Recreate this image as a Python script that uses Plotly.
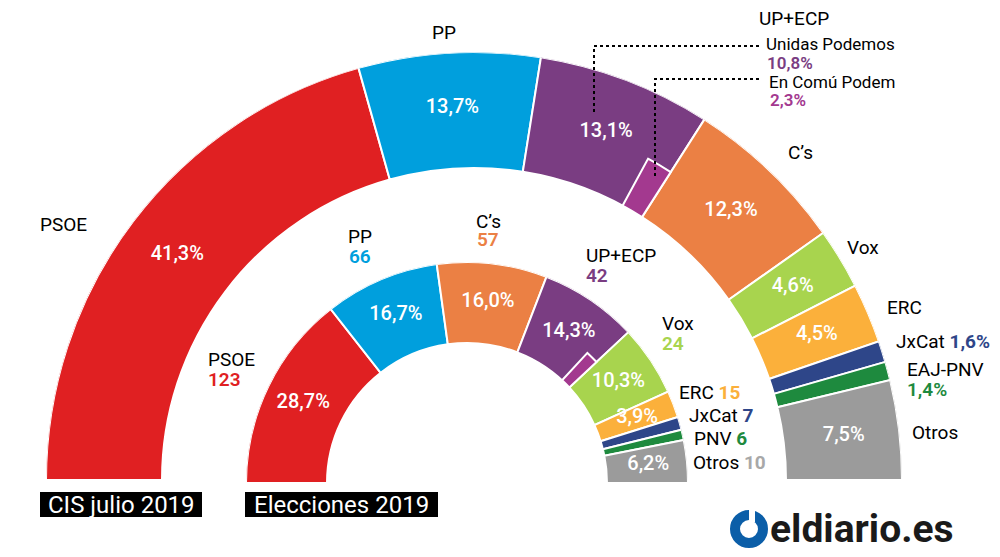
import plotly.graph_objects as go

# Encuesta CIS julio 2019 (anillo exterior) y elecciones abril 2019 (anillo interior)
cis_parties = ["PSOE", "PP", "UP+ECP", "C’s", "Vox", "ERC", "JxCat", "EAJ-PNV", "Otros"]
cis_pct = [41.3, 13.7, 13.1, 12.3, 4.6, 4.5, 1.6, 1.4, 7.5]
cis_up = 10.8
cis_ecp = 2.3

elec_parties = ["PSOE", "PP", "C’s", "UP+ECP", "Vox", "ERC", "JxCat", "PNV", "Otros"]
elec_pct = [28.7, 16.7, 16.0, 14.3, 10.3, 3.9, 1.9, 1.5, 6.2]
elec_seats = [123, 66, 57, 42, 24, 15, 7, 6, 10]
elec_ecp = 2.3

colors = {
    "PSOE": "#E02022", "PP": "#009FDD", "UP+ECP": "#7A3D82", "C’s": "#EB8044",
    "Vox": "#A8D44E", "ERC": "#FBB03B", "JxCat": "#2E4689", "EAJ-PNV": "#1E8A3E",
    "PNV": "#1E8A3E", "Otros": "#9B9B9B",
}
ECP_COLOR = "#A3398F"
OTROS_TXT = "#A8A8A8"

# the page body keeps its 8px margin, so the figure is drawn 8px in and 8px smaller
OFF = 8
W, H = 1000 - OFF, 557 - OFF


def px(x):
    return (x - OFF) / W


def py(y):
    return 1 - (y - OFF) / H


def wedges(pct):
    total = sum(pct)
    widths = [p / total * 180 for p in pct]
    mids, start = [], 0
    for w in widths:
        mids.append(start + w / 2)
        start += w
    return widths, mids, total


def pct_txt(v):
    return f"{v:.1f}%".replace(".", ",")


fig = go.Figure()


def add_ring(parties, pct, base, length, ecp, subplot):
    widths, mids, total = wedges(pct)
    fig.add_trace(go.Barpolar(
        theta=mids, width=widths, r=[length] * len(pct), base=[base] * len(pct),
        marker=dict(color=[colors[p] for p in parties], line=dict(color="white", width=2)),
        hoverinfo="skip", showlegend=False, subplot=subplot,
    ))
    # En Comú Podem, dentro de UP+ECP (al final del sector)
    i = parties.index("UP+ECP")
    end = mids[i] + widths[i] / 2
    ew = ecp / total * 180
    fig.add_trace(go.Barpolar(
        theta=[end - ew / 2], width=[ew], r=[length * 0.46], base=[base],
        marker=dict(color=ECP_COLOR, line=dict(color="white", width=2)),
        hoverinfo="skip", showlegend=False, subplot=subplot,
    ))
    shown = [k for k, p in enumerate(parties) if p not in ("JxCat", "EAJ-PNV", "PNV")]
    fig.add_trace(go.Scatterpolar(
        theta=[mids[k] for k in shown], r=[base + length * 0.52] * len(shown),
        mode="text", text=[pct_txt(pct[k]) for k in shown],
        textfont=dict(family="Roboto", size=20, color="white", weight=500),
        hoverinfo="skip", showlegend=False, subplot=subplot,
    ))


def polar_layout(cx, cy, r):
    return dict(
        domain=dict(x=[px(cx - r), px(cx + r)], y=[py(cy), py(cy - r)]),
        sector=[0, 180],
        bgcolor="rgba(0,0,0,0)",
        radialaxis=dict(range=[0, r], visible=False),
        angularaxis=dict(direction="clockwise", rotation=180, visible=False,
                         showgrid=False, showline=False),
    )


# outer ring: centre (474, 480), radius 428 px; inner ring: centre (467, 483), radius 221 px
add_ring(cis_parties, cis_pct, 312, 116, cis_ecp, "polar")
add_ring(elec_parties, elec_pct, 140, 81, elec_ecp, "polar2")

fig.update_layout(
    width=W, height=H,
    margin=dict(l=0, r=0, t=0, b=0),
    paper_bgcolor="white",
    polar=polar_layout(474, 480, 428),
    polar2=polar_layout(467, 483, 221),
)

# etiquetas: (x, y, texto, color, negrita, anclaje, tamano)
labels = [
    (63, 224, "PSOE", "black", False, "center", 19),
    (444, 33, "PP", "black", False, "center", 19),
    (794, 19, "UP+ECP", "black", False, "center", 19),
    (765, 44, "Unidas Podemos", "black", False, "left", 17),
    (766, 63, pct_txt(cis_up), colors["UP+ECP"], True, "left", 17),
    (768, 82, "En Comú Podem", "black", False, "left", 17),
    (769, 100, pct_txt(cis_ecp), ECP_COLOR, True, "left", 17),
    (800, 152, "C’s", "black", False, "center", 19),
    (863, 247, "Vox", "black", False, "center", 19),
    (904, 307, "ERC", "black", False, "center", 19),
    (895, 341, "JxCat <span style='color:%s'><b>%s</b></span>" % (colors["JxCat"], pct_txt(cis_pct[6])),
     "black", False, "left", 19),
    (906, 369, "EAJ-PNV", "black", False, "left", 19),
    (906, 389, pct_txt(cis_pct[7]), colors["EAJ-PNV"], True, "left", 19),
    (935, 432, "Otros", "black", False, "center", 19),
    # elecciones
    (207, 359, "PSOE", "black", False, "left", 19),
    (207, 379, str(elec_seats[0]), colors["PSOE"], True, "left", 19),
    (360, 237, "PP", "black", False, "center", 19),
    (360, 256, str(elec_seats[1]), colors["PP"], True, "center", 19),
    (488, 221, "C’s", "black", False, "center", 19),
    (488, 240, str(elec_seats[2]), colors["C’s"], True, "center", 19),
    (585, 255, "UP+ECP", "black", False, "left", 19),
    (585, 275, str(elec_seats[3]), colors["UP+ECP"], True, "left", 19),
    (661, 323, "Vox", "black", False, "left", 19),
    (661, 343, str(elec_seats[4]), colors["Vox"], True, "left", 19),
]
seat_rows = [(678, 392, 5, "ERC"), (688, 415, 6, "JxCat"), (693, 438, 7, "PNV"), (692, 462, 8, "Otros")]
for x, y, k, name in seat_rows:
    c = OTROS_TXT if name == "Otros" else colors[elec_parties[k]]
    labels.append((x, y, "%s <span style='color:%s'><b>%d</b></span>" % (name, c, elec_seats[k]),
                   "black", False, "left", 19))

for x, y, text, color, bold, anchor, size in labels:
    fig.add_annotation(
        x=px(x), y=py(y), xref="paper", yref="paper", text=text, showarrow=False,
        xanchor=anchor, yanchor="middle", borderpad=0,
        font=dict(family="Roboto", size=size, color=color, weight=600 if bold else 400),
    )

# lineas guia punteadas
for x0, y0, y1 in [(594, 112, 46), (655, 176, 79)]:
    fig.add_shape(type="path", xref="paper", yref="paper",
                  path=f"M{px(x0)},{py(y0)} L{px(x0)},{py(y1)} L{px(762)},{py(y1)}",
                  line=dict(color="black", width=2, dash="dot"))

# cajas de titulo
for x0, x1, text in [(40, 202, "CIS julio 2019"), (245, 438, "Elecciones 2019")]:
    fig.add_shape(type="rect", xref="paper", yref="paper", x0=px(x0), x1=px(x1),
                  y0=py(517), y1=py(492), fillcolor="black", line=dict(width=0), layer="below")
    fig.add_annotation(x=px((x0 + x1) / 2), y=py(505), xref="paper", yref="paper", text=text,
                       showarrow=False, xanchor="center", yanchor="middle", borderpad=0,
                       font=dict(family="Roboto", size=24, color="white"))

# logo
LOGO_BLUE = "#0B5EA8"
lx, ly, lr = 749, 529, 14
fig.add_shape(type="circle", xref="paper", yref="paper",
              x0=px(lx - lr), x1=px(lx + lr), y0=py(ly + lr), y1=py(ly - lr),
              line=dict(color=LOGO_BLUE, width=10), fillcolor="rgba(0,0,0,0)")
fig.add_shape(type="rect", xref="paper", yref="paper", x0=px(749), x1=px(755),
              y0=py(522), y1=py(508), fillcolor="white", line=dict(width=0))
fig.add_shape(type="rect", xref="paper", yref="paper", x0=px(744), x1=px(749),
              y0=py(520), y1=py(511), fillcolor=LOGO_BLUE, line=dict(width=0))
fig.add_annotation(x=px(769), y=py(529), xref="paper", yref="paper", text="<b>eldiario.es</b>",
                   showarrow=False, xanchor="left", yanchor="middle", borderpad=0,
                   font=dict(family="Roboto", size=39, color="#1A1A1A", weight=900))

fig.write_html("out.html")
